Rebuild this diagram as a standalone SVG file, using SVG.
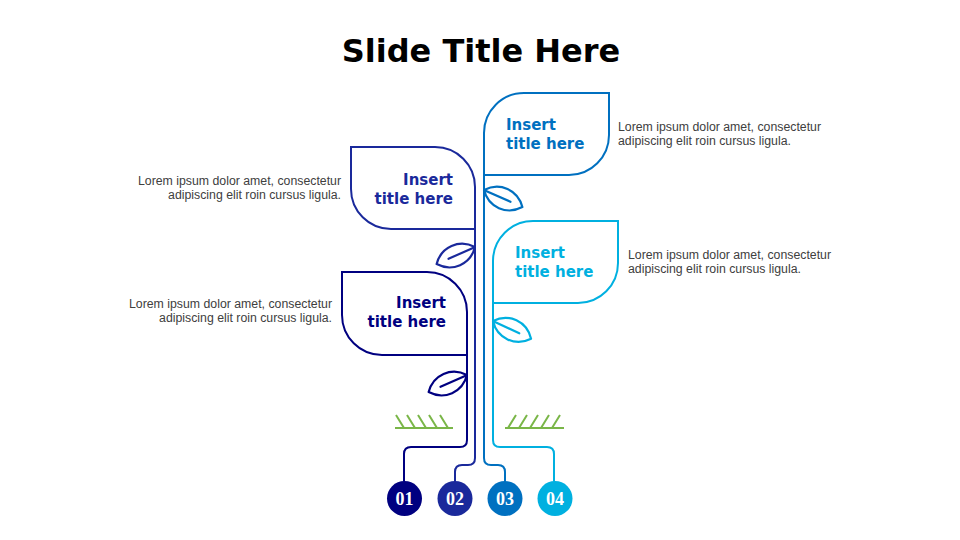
<svg xmlns="http://www.w3.org/2000/svg" width="960" height="540" viewBox="0 0 960 540">
<style>
.title{font-family:"DejaVu Sans",Verdana,sans-serif;font-weight:bold;font-size:32px;fill:#000}
.ct{font-family:"DejaVu Sans",Verdana,sans-serif;font-weight:bold;font-size:15px}
.body{font-family:"Liberation Sans",Arial,sans-serif;font-size:12.3px;fill:#404040}
.num{font-family:"Liberation Serif","Times New Roman",serif;font-weight:bold;font-size:18px;fill:#fff}
.ln{fill:none;stroke-width:2;stroke-linejoin:round;stroke-linecap:round}
.card{fill:#fff;stroke-width:2}
.grass{fill:none;stroke:#7AB648;stroke-width:2}
.c1{stroke:#000080}.f1{fill:#000080}
.c2{stroke:#1A299B}.f2{fill:#1A299B}
.c3{stroke:#0070C0}.f3{fill:#0070C0}
.c4{stroke:#00B0E0}.f4{fill:#00B0E0}
</style>
<defs>
<g id="leaf">
<path d="M0,0 C11,-14 31,-14 42,0 C31,14 11,14 0,0 Z" fill="none" stroke-width="2.2" stroke-linejoin="round"/>
<path d="M1,0 L29,0" fill="none" stroke-width="2.2" stroke-linecap="round"/>
</g>
</defs>
<rect width="960" height="540" fill="#fff"/>
<text class="title" x="481" y="62" text-anchor="middle">Slide Title Here</text>

<g id="connectors">
<path class="ln c1" d="M467,355 V440 Q467,447 460,447 H411 Q404,447 404,454 V481"/>
<path class="ln c2" d="M475,229 V458 Q475,465 468,465 H462 Q455,465 455,472 V481"/>
<path class="ln c3" d="M484,175 V458 Q484,465 491,465 H498 Q505,465 505,472 V481"/>
<path class="ln c4" d="M493,303 V440 Q493,447 500,447 H547 Q554,447 554,454 V481"/>
</g>

<g id="grass">
<path class="grass" d="M395,428 H453 M396,415 L404,428 M407,415 L415,428 M418,415 L426,428 M429,415 L437,428 M440,415 L448,428"/>
<path class="grass" d="M505,428 H564 M508,428 L516,415 M519,428 L527,415 M530,428 L538,415 M541,428 L549,415 M552,428 L560,415"/>
</g>

<g id="node-01">
<path class="card c1" d="M342,272 H427 A40,40 0 0 1 467,312 V355 H382 A40,40 0 0 1 342,315 Z"/>
<use href="#leaf" class="c1" transform="translate(467,375) rotate(156)"/>
<text class="ct f1" text-anchor="end"><tspan x="446" y="308">Insert</tspan><tspan x="446" y="327">title here</tspan></text>
<text class="body" text-anchor="end"><tspan x="332" y="308">Lorem ipsum dolor amet, consectetur</tspan><tspan x="332" y="322">adipiscing  elit roin cursus ligula.</tspan></text>
<circle class="f1" cx="404.5" cy="498.5" r="17.5"/>
<text class="num" x="404.5" y="505" text-anchor="middle">01</text>
</g>

<g id="node-02">
<path class="card c2" d="M351,147 H435 A40,40 0 0 1 475,187 V229 H391 A40,40 0 0 1 351,189 Z"/>
<use href="#leaf" class="c2" transform="translate(475,247) rotate(156)"/>
<text class="ct f2" text-anchor="end"><tspan x="453" y="185">Insert</tspan><tspan x="453" y="204">title here</tspan></text>
<text class="body" text-anchor="end"><tspan x="341" y="185">Lorem ipsum dolor amet, consectetur</tspan><tspan x="341" y="199">adipiscing  elit roin cursus ligula.</tspan></text>
<circle class="f2" cx="455" cy="498.5" r="17.5"/>
<text class="num" x="455" y="505" text-anchor="middle">02</text>
</g>

<g id="node-03">
<path class="card c3" d="M484,175 V133 A40,40 0 0 1 524,93 H609 V135 A40,40 0 0 1 569,175 Z"/>
<use href="#leaf" class="c3" transform="translate(484,190) rotate(24)"/>
<text class="ct f3"><tspan x="506" y="130">Insert</tspan><tspan x="506" y="149">title here</tspan></text>
<text class="body"><tspan x="618" y="131">Lorem ipsum dolor amet, consectetur</tspan><tspan x="618" y="145">adipiscing  elit roin cursus ligula.</tspan></text>
<circle class="f3" cx="505" cy="498.5" r="17.5"/>
<text class="num" x="505" y="505" text-anchor="middle">03</text>
</g>

<g id="node-04">
<path class="card c4" d="M493,303 V261 A40,40 0 0 1 533,221 H618 V263 A40,40 0 0 1 578,303 Z"/>
<use href="#leaf" class="c4" transform="translate(493,321) rotate(25)"/>
<text class="ct f4"><tspan x="515" y="258">Insert</tspan><tspan x="515" y="277">title here</tspan></text>
<text class="body"><tspan x="628" y="259">Lorem ipsum dolor amet, consectetur</tspan><tspan x="628" y="273">adipiscing  elit roin cursus ligula.</tspan></text>
<circle class="f4" cx="555" cy="498.5" r="17.5"/>
<text class="num" x="555" y="505" text-anchor="middle">04</text>
</g>
</svg>
